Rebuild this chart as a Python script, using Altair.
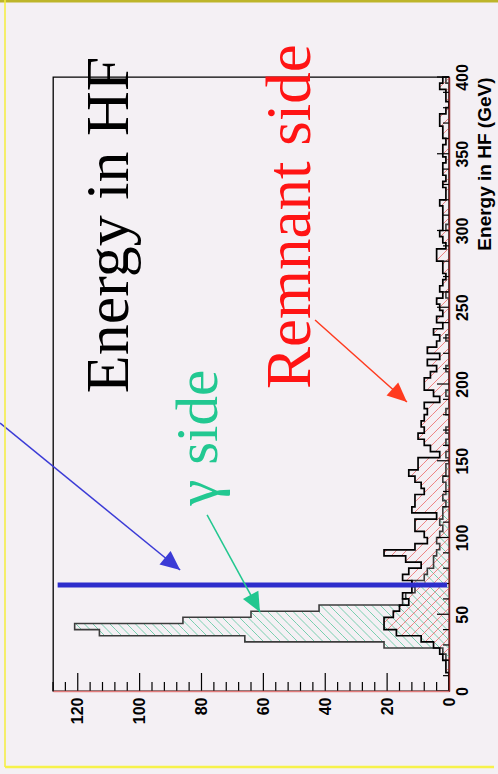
import math
import altair as alt
import pandas as pd

# ---------------- data ----------------
BIN_WIDTH = 4  # GeV per bin, 100 bins from 0 to 400 GeV

gamma_side = [
    0, 0, 0, 0, 0, 1, 2, 21, 66, 113,
    121, 86, 64, 42, 15, 14, 11, 12, 8, 7,
    5, 5, 4, 3, 4, 3, 2, 3, 2, 2,
    1, 2, 1, 1, 2, 1, 1, 0, 1, 0,
    1, 0, 1, 0, 0, 1, 0, 0, 1, 0,
    0, 0, 1, 0, 0, 0, 0, 1, 0, 0,
    0, 0, 0, 0, 1, 0, 0, 0, 0, 0,
    0, 0, 0, 0, 0, 1, 0, 0, 0, 0,
    0, 0, 0, 0, 0, 0, 0, 0, 0, 0,
    0, 0, 0, 0, 0, 0, 0, 0, 0, 1,
]

remnant_side = [
    0, 0, 0, 1, 1, 2, 3, 5, 9, 17,
    21, 21, 18, 16, 13, 15, 12, 12, 15, 13,
    9, 14, 21, 11, 7, 8, 11, 11, 4, 12,
    11, 11, 8, 9, 11, 13, 10, 10, 3, 6,
    8, 10, 8, 9, 8, 7, 8, 3, 5, 8,
    8, 6, 4, 7, 3, 7, 4, 3, 5, 2,
    4, 2, 3, 4, 2, 3, 2, 1, 2, 2,
    4, 4, 1, 2, 3, 2, 2, 2, 2, 3,
    1, 1, 2, 1, 2, 2, 1, 2, 2, 1,
    2, 2, 3, 3, 1, 0, 1, 1, 3, 2,
]

count_major = [0, 20, 40, 60, 80, 100, 120]
count_minor = list(range(0, 129, 4))
energy_major = [0, 50, 100, 150, 200, 250, 300, 350, 400]
energy_minor = list(range(0, 401, 10))

cut_energy = 69           # GeV, cut line
cut_span = [0.6, 126.5]   # counts covered by the cut line

labels = ["Energy in HF", "Remnant side", "\u03b3 side"]

# ---------------- geometry ----------------
W, H = 396, 614
C_MAX, E_MAX = 128, 400
PX_C = W / C_MAX
PX_E = H / E_MAX

x_scale = alt.Scale(domain=[0, C_MAX], reverse=True, nice=False, zero=False)
y_scale = alt.Scale(domain=[0, E_MAX], nice=False, zero=False)

LABEL_FONT = "Liberation Sans"
SERIF = "Liberation Serif"

x_axis = alt.Axis(
    orient="bottom", values=count_major, labelAngle=270, labelAlign="right",
    labelBaseline="middle", labelPadding=6, labelFont=LABEL_FONT,
    labelFontWeight="bold", labelFontSize=16, labelColor="#000",
    ticks=False, tickSize=0, domainColor="#e07a7a", domainWidth=1.5,
    grid=False, title="", labelFlush=False, labelOverlap=False, zindex=1,
)
y_axis = alt.Axis(
    orient="right", values=energy_major, labelAngle=270, labelAlign="center",
    labelBaseline="top", labelPadding=5, labelFont=LABEL_FONT,
    labelFontWeight="bold", labelFontSize=16, labelColor="#000",
    ticks=False, tickSize=0, domainColor="#8a2424", domainWidth=1.5,
    grid=False, labelFlush=False, labelOverlap=False, zindex=1,
    title="Energy in HF (GeV)", titleAngle=270, titleAlign="right",
    titleBaseline="middle", titleX=35, titleY=0, titleFont=LABEL_FONT,
    titleFontSize=19, titleFontWeight="bold", titleColor="#000",
)


def X(f):
    return alt.X(f, type="quantitative", scale=x_scale, axis=x_axis)


def Y(f):
    return alt.Y(f, type="quantitative", scale=y_scale, axis=y_axis)


def hatch_segments(values, step, sign, phase=0.0):
    """Diagonal hatch lines clipped to each histogram bin (in pixel space)."""
    rows = []
    for i, c in enumerate(values):
        if c <= 0:
            continue
        U = c * PX_C
        v0, v1 = i * BIN_WIDTH * PX_E, (i + 1) * BIN_WIDTH * PX_E
        if sign < 0:  # u - v = b
            bmin, bmax = -v1, U - v0
        else:         # u + v = b
            bmin, bmax = v0, U + v1
        k0 = math.ceil((bmin - phase) / step)
        k1 = math.floor((bmax - phase) / step)
        for k in range(k0, k1 + 1):
            b = k * step + phase
            if sign < 0:
                va, vb = max(v0, -b), min(v1, U - b)
                ua, ub = va + b, vb + b
            else:
                va, vb = max(v0, b - U), min(v1, b)
                ua, ub = b - va, b - vb
            if vb - va <= 1e-6:
                continue
            rows.append({"c": ua / PX_C, "e": va / PX_E,
                         "c2": ub / PX_C, "e2": vb / PX_E})
    return pd.DataFrame(rows)


def outline(values):
    pts = [{"c": 0, "e": 0, "k": 0}]
    for i, c in enumerate(values):
        pts.append({"c": c, "e": i * BIN_WIDTH, "k": len(pts)})
        pts.append({"c": c, "e": (i + 1) * BIN_WIDTH, "k": len(pts)})
    pts.append({"c": 0, "e": len(values) * BIN_WIDTH, "k": len(pts)})
    return pd.DataFrame(pts)


# ---------------- histogram layers ----------------
gamma_hatch = alt.Chart(hatch_segments(gamma_side, 8.5, -1)).mark_rule(
    color="#5cc79e", strokeWidth=0.9, opacity=0.9
).encode(x=X("c"), x2="c2", y=Y("e"), y2="e2")

remnant_hatch = alt.Chart(hatch_segments(remnant_side, 10.0, 1, 3.0)).mark_rule(
    color="#ec5f5f", strokeWidth=0.9, opacity=0.85
).encode(x=X("c"), x2="c2", y=Y("e"), y2="e2")

gamma_line = alt.Chart(outline(gamma_side)).mark_line(
    color="#3c3c3c", strokeWidth=1.6, interpolate="linear"
).encode(x=X("c"), y=Y("e"), order=alt.Order("k:Q"))

remnant_line = alt.Chart(outline(remnant_side)).mark_line(
    color="#000000", strokeWidth=1.7, interpolate="linear"
).encode(x=X("c"), y=Y("e"), order=alt.Order("k:Q"))

# ---------------- inward ticks ----------------
df_cmaj = pd.DataFrame({"t": count_major})
df_cmin = pd.DataFrame({"t": [v for v in count_minor if v not in count_major]})
df_emaj = pd.DataFrame({"t": energy_major})
df_emin = pd.DataFrame({"t": [v for v in energy_minor if v not in energy_major]})

tick_style = dict(color="#000", strokeWidth=1.2)
c_major_ticks = alt.Chart(df_cmaj).mark_rule(**tick_style).encode(
    x=X("t"), y=alt.value(H), y2=alt.value(H - 18))
c_minor_ticks = alt.Chart(df_cmin).mark_rule(**tick_style).encode(
    x=X("t"), y=alt.value(H), y2=alt.value(H - 9))
e_major_ticks = alt.Chart(df_emaj).mark_rule(**tick_style).encode(
    y=Y("t"), x=alt.value(W), x2=alt.value(W - 12))
e_minor_ticks = alt.Chart(df_emin).mark_rule(**tick_style).encode(
    y=Y("t"), x=alt.value(W), x2=alt.value(W - 6))

# ---------------- cut line ----------------
cut = alt.Chart(pd.DataFrame({"c": [cut_span[0]], "c2": [cut_span[1]],
                              "e": [cut_energy]})).mark_rule(
    color="#2d2dcc", strokeWidth=5
).encode(x=X("c"), x2="c2", y=Y("e"))

# ---------------- arrows ----------------
arrows = pd.DataFrame([
    {"c0": 145.1, "e0": 174.6, "c1": 86.9, "e1": 78.8, "col": "#3b3bd6"},
    {"c0": 78.2, "e0": 114.7, "c1": 61.1, "e1": 51.5, "col": "#22c78f"},
    {"c0": 43.3, "e0": 241.7, "c1": 13.6, "e1": 188.3, "col": "#ff3b1f"},
])
arrows["ang"] = [
    math.degrees(math.atan2(-(r.c1 - r.c0) * PX_C, (r.e1 - r.e0) * PX_E)) % 360
    for r in arrows.itertuples()
]

shafts = alt.Chart(arrows).mark_rule(strokeWidth=1.5).encode(
    x=X("c0"), x2="c1", y=Y("e0"), y2="e1",
    color=alt.Color("col:N", scale=None))

heads = alt.Chart(arrows).mark_point(
    shape="M0,0L-0.9,2L0.9,2Z", filled=True, size=380, opacity=1, strokeWidth=0
).encode(
    x=X("c1"), y=Y("e1"),
    color=alt.Color("col:N", scale=None),
    angle=alt.Angle("ang:Q", scale=None))

# ---------------- text annotations ----------------
def label(text, c, e, size, color):
    return alt.Chart(pd.DataFrame({"c": [c], "e": [e], "t": [text]})).mark_text(
        angle=270, align="center", baseline="alphabetic", font=SERIF,
        fontSize=size, color=color
    ).encode(x=X("c"), y=Y("e"), text="t:N")


txt_energy = label(labels[0], 103.7, 303.6, 62, "#000000")
txt_remnant = label(labels[1], 44.9, 309.0, 63, "#ff1414")
txt_gamma = label(labels[2], 75.0, 165.0, 59, "#22c891")

# ---------------- slide border ----------------
border_top = alt.Chart(pd.DataFrame({"a": [0]})).mark_rule(
    color="#bdb52a", strokeWidth=3).encode(
    x=alt.value(-53), x2=alt.value(445), y=alt.value(-76))
border_left = alt.Chart(pd.DataFrame({"a": [0]})).mark_rule(
    color="#f4ee3c", strokeWidth=1.5).encode(
    x=alt.value(-48), y=alt.value(-77), y2=alt.value(690))
border_bottom = alt.Chart(pd.DataFrame({"a": [0]})).mark_rule(
    color="#f6f24a", strokeWidth=2.5).encode(
    x=alt.value(-48), x2=alt.value(441), y=alt.value(690))

chart = alt.layer(
    gamma_hatch, remnant_hatch, gamma_line, remnant_line,
    c_major_ticks, c_minor_ticks, e_major_ticks, e_minor_ticks,
    cut, shafts, heads, txt_energy, txt_remnant, txt_gamma,
    border_top, border_left, border_bottom,
).properties(
    width=W, height=H,
    padding={"left": 53, "top": 77, "right": 49, "bottom": 83},
    autosize=alt.AutoSizeParams(type="none"),
    background="#f4f0f4",
).configure_view(stroke="#000000", strokeWidth=1.3)

chart.save("out.html", embed_options={"renderer": "svg", "actions": False})
